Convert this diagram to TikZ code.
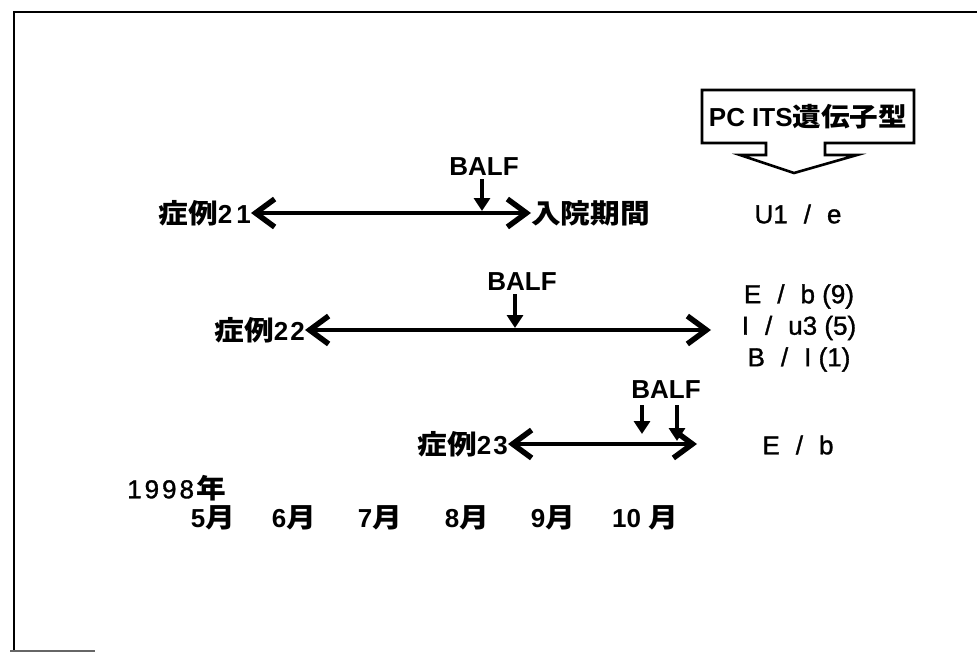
\documentclass[tikz,border=0pt]{standalone}
\usepackage{fontspec}
\setmainfont{Liberation Sans}
\newfontfamily\cjk[FakeStretch=1.1]{Noto Sans CJK JP}
\newfontfamily\medfont[FakeBold=1.2]{Liberation Sans}
\usetikzlibrary{arrows.meta}
\newcommand\jb[1]{{\cjk\fontsize{27}{30}\selectfont\bfseries #1}}
\newcommand\gs{\hspace{16pt}}
\begin{document}
\begin{tikzpicture}[x=1pt,y=-1pt,
  every node/.style={inner sep=0pt},
  lbl/.style={font=\fontsize{26}{28}\selectfont\bfseries},
  balf/.style={font=\fontsize{26}{28}\selectfont\bfseries},
  geno/.style={font=\medfont\fontsize{26}{31.5}\selectfont, align=center},
  yr/.style={font=\medfont\fontsize{26}{28}\selectfont},
  period/.style={line width=3.8pt,
    {Straight Barb[length=19pt,width=28pt,line width=5.5pt]}-{Straight Barb[length=19pt,width=28pt,line width=5.5pt]}},
  balfarrow/.style={line width=3.5pt, -{Triangle[length=13pt,width=16pt]}},
  frame/.style={line width=2pt}]
\useasboundingbox (0,0) rectangle (977,653);
% frame
\coordinate (ftl) at (14,12);
\coordinate (ftr) at (977,12);
\coordinate (fbl) at (14,651);
\coordinate (fbr) at (95,651);
\draw[frame] (ftr) -- (ftl) -- (fbl);
\draw[line width=1.2pt, black!60] (10,651) -- (fbr);
% callout
\draw[line width=2.6pt, line join=miter] (702,90) -- (914,90) -- (914,143) -- (825,143) -- (825,155) -- (857,155)
  -- (794,173) -- (740,155) -- (766,155) -- (766,143) -- (702,143) -- cycle;
\node[lbl] (pc) at (808,117) {PC ITS{\cjk\fontsize{26}{30}\selectfont\bfseries 遺伝子型}};
% row 1
\node[lbl, anchor=east] (c21) at (251,213) {\jb{症例}2\kern4pt1};
\node[lbl, anchor=west] (adm) at (531,213) {\jb{入院期間}};
\draw[period] (c21.east) -- (c21.east -| adm.west);
\node[balf] (b1) at (484,167) {BALF};
\coordinate (b1e) at (482,211);
\draw[balfarrow] ([xshift=-2pt,yshift=-3pt]b1.south) -- (b1e);
\node[geno] (g21) at (798,214) {U1\gs/\gs e};
% row 2
\node[lbl, anchor=east] (c22) at (305,330) {\jb{症例}2\kern2pt2};
\coordinate (e22) at (711,330);
\draw[period] (c22.east) -- (c22.east -| e22);
\node[balf] (b2) at (522,282) {BALF};
\coordinate (b2e) at (515,328);
\draw[balfarrow] ([xshift=-7pt,yshift=-3pt]b2.south) -- (b2e);
\node[geno] (g22) at (799,328) {E\gs/\gs b (9)\\I\gs/\gs u3 (5)\\B\gs/\gs I (1)};
% row 3
\node[lbl, anchor=east] (c23) at (508,444) {\jb{症例}2\kern2pt3};
\coordinate (e23) at (697,444);
\draw[period] (c23.east) -- (c23.east -| e23);
\node[balf] (b3) at (666,390) {BALF};
\coordinate (b3a) at (642,405);
\coordinate (b3ae) at (642,434);
\coordinate (b3b) at (677,405);
\coordinate (b3be) at (677,441);
\draw[balfarrow] (b3a) -- (b3ae);
\draw[balfarrow] (b3b) -- (b3be);
\node[geno] (g23) at (798,445) {E\gs/\gs b};
% time axis
\node[yr, anchor=west] (yr) at (127,488) {1\kern3pt9\kern3pt9\kern3pt8\kern2pt\jb{年}};
\node[lbl] (m5) at (213,518) {5\jb{月}};
\node[lbl] (m6) at (294,518) {6\jb{月}};
\node[lbl] (m7) at (380,518) {7\jb{月}};
\node[lbl] (m8) at (467,518) {8\jb{月}};
\node[lbl] (m9) at (553,518) {9\jb{月}};
\node[lbl] (m10) at (645,518) {10 \jb{月}};
\end{tikzpicture}
\end{document}
